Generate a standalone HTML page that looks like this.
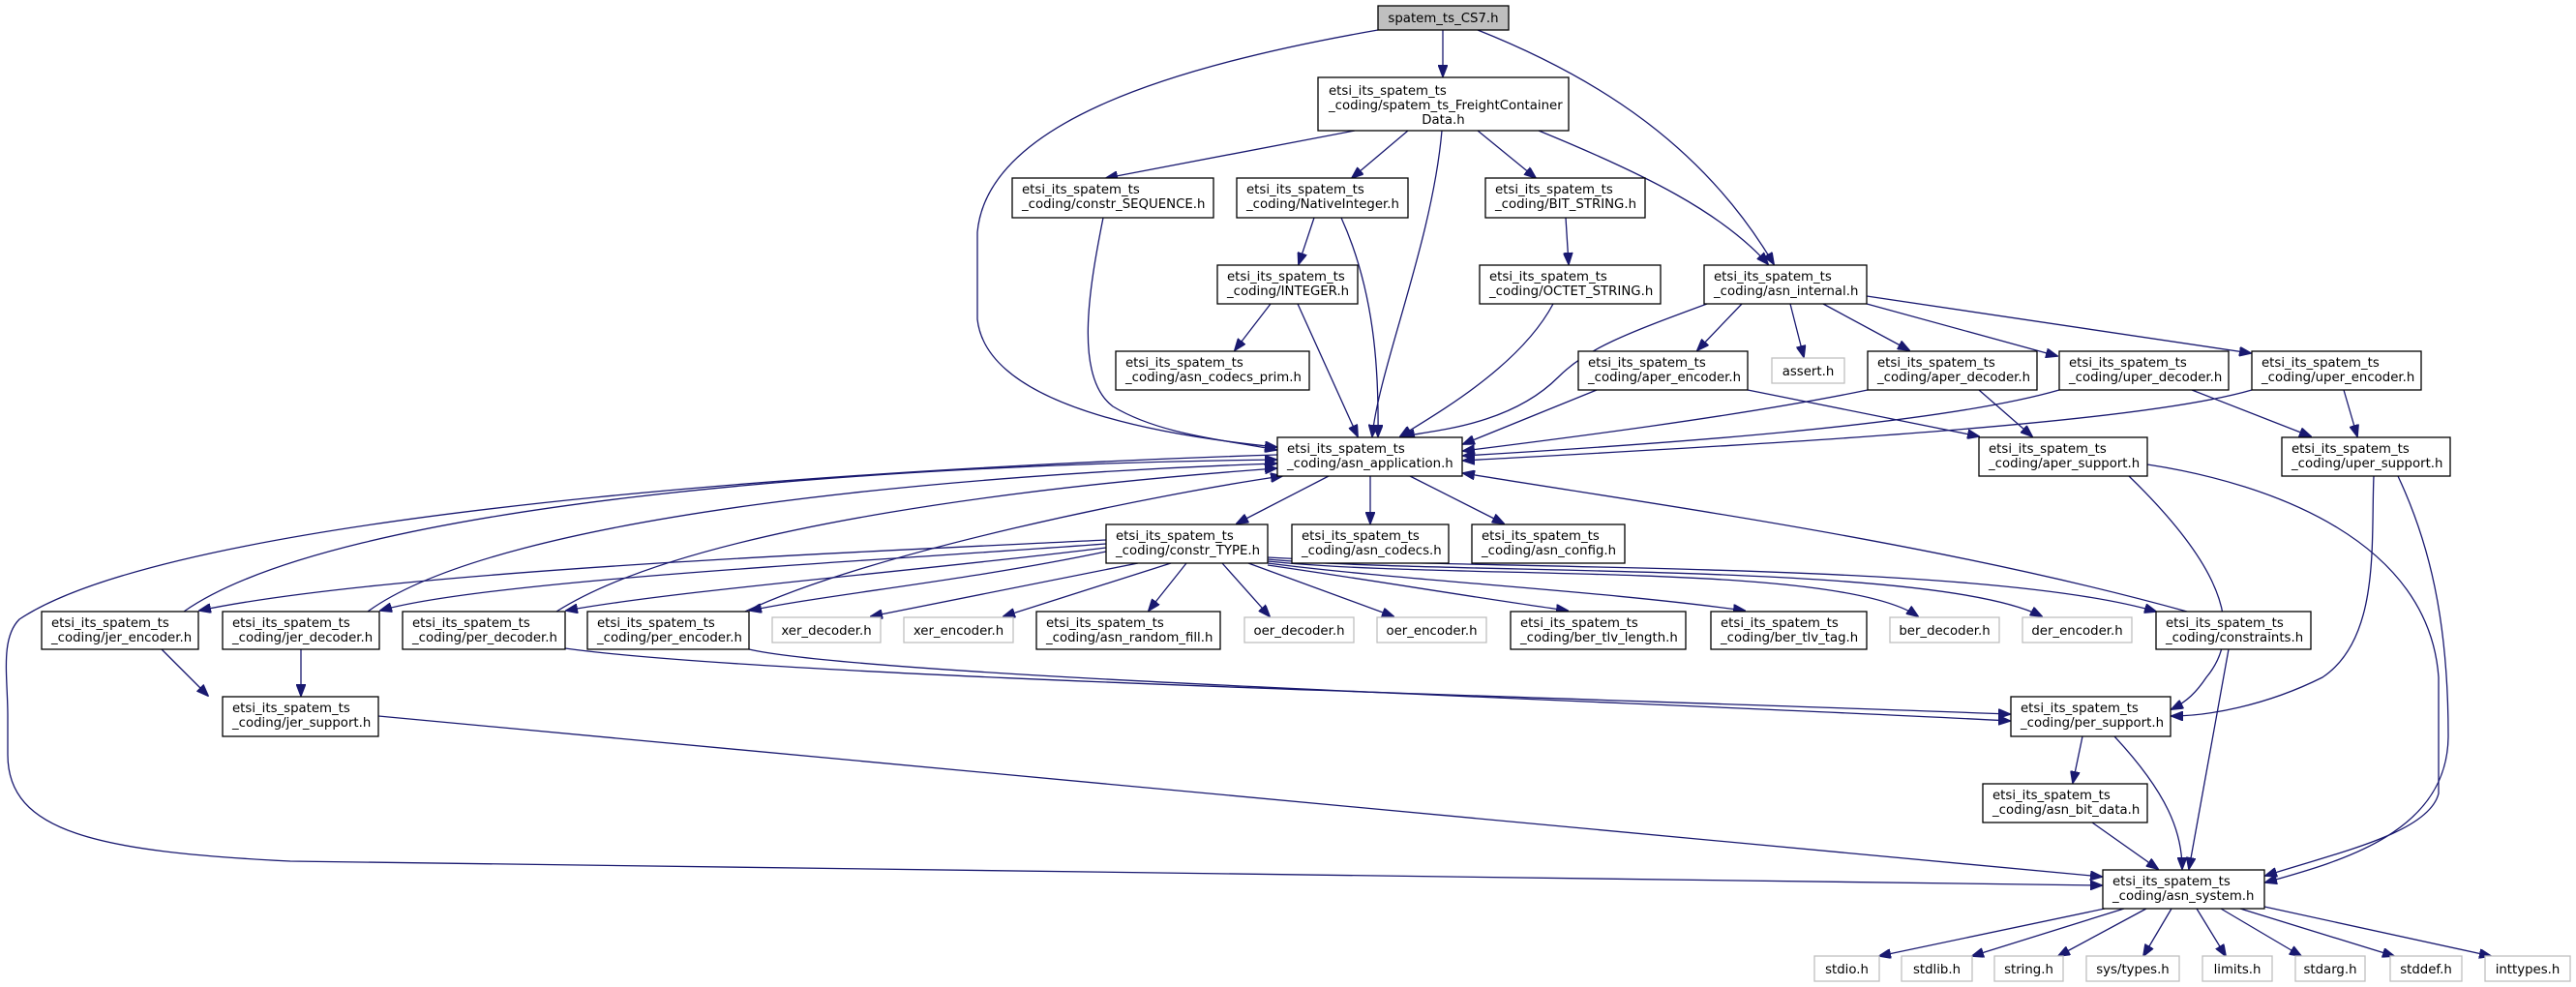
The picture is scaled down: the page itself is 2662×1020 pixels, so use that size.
<!DOCTYPE html>
<html><head><meta charset="utf-8"><style>
html,body{margin:0;padding:0;background:#fff;}
svg{display:block;}
text{font-family:"DejaVu Sans","Liberation Sans",sans-serif;font-size:13.3px;fill:#000;}
.n{fill:#fff;stroke:#000;stroke-width:1.3;}
.g{fill:#fff;stroke:#bfbfbf;stroke-width:1.3;}
.e{fill:none;stroke:#191970;stroke-width:1.3;}
</style></head><body>
<svg width="2662" height="1020" viewBox="0 0 2662 1020" xmlns="http://www.w3.org/2000/svg">
<defs><marker id="a" markerWidth="13" markerHeight="10" refX="12" refY="5" orient="auto" markerUnits="userSpaceOnUse"><path d="M0,0 L13,5 L0,10 Z" fill="#191970" stroke="#191970"/></marker></defs>
<g marker-end="url(#a)">
<!-- CS7 -->
<path class="e" d="M1491,31 L1491,79"/>
<path class="e" d="M1424,31 C1200,70 1020,130 1010,240 L1010,330 C1020,420 1200,450 1319,462"/>
<path class="e" d="M1527,31 C1650,80 1760,150 1833,273"/>
<!-- FC -->
<path class="e" d="M1400,135 L1143,184"/>
<path class="e" d="M1455,135 L1397,184"/>
<path class="e" d="M1490,135 C1480,250 1425,380 1418,451"/>
<path class="e" d="M1527,135 L1587,184"/>
<path class="e" d="M1590,135 C1700,180 1780,220 1827,273"/>
<!-- SEQ, NAT, INT, BIT, OCT -->
<path class="e" d="M1140,225 C1125,300 1110,390 1150,420 C1200,450 1270,455 1319,465"/>
<path class="e" d="M1358,225 L1342,273"/>
<path class="e" d="M1386,225 C1420,300 1425,380 1424,451"/>
<path class="e" d="M1313,314 L1276,362"/>
<path class="e" d="M1341,314 L1403,451"/>
<path class="e" d="M1618,225 L1621,273"/>
<path class="e" d="M1605,314 C1570,380 1480,430 1447,451"/>
<path class="e" d="M1764,314 C1680,345 1640,360 1610,390 C1560,440 1480,445 1450,451"/>
<!-- INTERNAL -->
<path class="e" d="M1800,314 L1754,362"/>
<path class="e" d="M1850,314 L1864,369"/>
<path class="e" d="M1884,314 L1973,362"/>
<path class="e" d="M1929,314 L2126,368"/>
<path class="e" d="M1929,306 L2326,365"/>
<!-- row4 to APP & supports -->
<path class="e" d="M1650,403 L1512,459"/>
<path class="e" d="M1806,403 L2045,451"/>
<path class="e" d="M1930,403 C1800,430 1600,455 1512,466"/>
<path class="e" d="M2045,403 L2100,451"/>
<path class="e" d="M2128,403 C2000,440 1700,460 1512,471"/>
<path class="e" d="M2265,403 L2388,451"/>
<path class="e" d="M2327,403 C2200,440 1800,460 1512,476"/>
<path class="e" d="M2422,403 L2436,451"/>
<!-- APP children -->
<path class="e" d="M1373,492 L1278,541"/>
<path class="e" d="M1416,492 L1416,541"/>
<path class="e" d="M1457,492 L1554,541"/>
<path class="e" d="M1320,470 C1000,480 200,520 20,640 C0,660 8,700 8,740 L8,780 C8,860 100,880 300,890 L2172,915"/>
<!-- supports -->
<path class="e" d="M2200,492 C2270,560 2330,640 2280,700 C2270,715 2260,725 2244,733"/>
<path class="e" d="M2219,480 C2350,500 2510,560 2520,700 L2520,820 C2510,860 2420,880 2341,905"/>
<path class="e" d="M2453,492 C2450,560 2460,660 2400,700 C2340,730 2280,740 2244,740"/>
<path class="e" d="M2478,492 C2510,560 2530,640 2530,760 C2530,860 2420,890 2341,912"/>
<path class="e" d="M2152,761 L2142,809"/>
<path class="e" d="M2185,761 C2240,820 2255,860 2255,898"/>
<path class="e" d="M2162,850 L2230,898"/>
<path class="e" d="M2303,671 L2262,898"/>
<path class="e" d="M2260,632 C2000,560 1700,520 1512,489"/>
<!-- TYPE children -->
<path class="e" d="M1143,558 C900,570 400,590 206,631"/>
<path class="e" d="M1143,562 C900,580 500,600 393,631"/>
<path class="e" d="M1143,566 C950,590 700,610 585,631"/>
<path class="e" d="M1143,570 C1000,600 850,615 775,631"/>
<path class="e" d="M1176,582 L900,637"/>
<path class="e" d="M1210,582 L1037,637"/>
<path class="e" d="M1226,582 L1187,631"/>
<path class="e" d="M1263,582 L1312,637"/>
<path class="e" d="M1290,582 L1440,637"/>
<path class="e" d="M1310,584 C1420,600 1540,620 1620,631"/>
<path class="e" d="M1310,582 C1450,600 1650,610 1803,631"/>
<path class="e" d="M1310,580 C1500,600 1900,580 1982,637"/>
<path class="e" d="M1310,578 C1500,595 2000,580 2110,637"/>
<path class="e" d="M1310,576 C1550,590 2050,580 2228,632"/>
<!-- row7 back to APP -->
<path class="e" d="M190,632 C350,520 900,480 1319,475"/>
<path class="e" d="M380,632 C520,530 1000,490 1319,479"/>
<path class="e" d="M575,632 C720,540 1100,500 1319,484"/>
<path class="e" d="M770,632 C900,570 1200,510 1325,492"/>
<!-- row7 lower -->
<path class="e" d="M167,671 L215,719"/>
<path class="e" d="M311,671 L311,719"/>
<path class="e" d="M584,670 C800,700 1600,720 2077,738"/>
<path class="e" d="M774,671 C900,700 1700,725 2077,745"/>
<path class="e" d="M391,740 L2172,906"/>
<!-- system leaves -->
<path class="e" d="M2175,939 L1942,988"/>
<path class="e" d="M2195,939 L2038,988"/>
<path class="e" d="M2218,939 L2127,988"/>
<path class="e" d="M2244,939 L2215,988"/>
<path class="e" d="M2270,939 L2300,988"/>
<path class="e" d="M2295,939 L2378,988"/>
<path class="e" d="M2315,939 L2474,988"/>
<path class="e" d="M2340,937 L2574,988"/>
</g>
<!-- nodes -->
<rect x="1424" y="6" width="135" height="25" fill="#bfbfbf" stroke="#000" stroke-width="1.3"/>
<text x="1491.5" y="23" text-anchor="middle">spatem_ts_CS7.h</text>
<rect class="n" x="1362" y="80" width="259" height="55"/>
<text x="1373" y="98">etsi_its_spatem_ts</text><text x="1373" y="113">_coding/spatem_ts_FreightContainer</text><text x="1491.5" y="128" text-anchor="middle">Data.h</text>
<g>
<rect class="n" x="1046" y="184" width="208" height="41"/><text x="1056" y="200">etsi_its_spatem_ts</text><text x="1056" y="215">_coding/constr_SEQUENCE.h</text>
<rect class="n" x="1278" y="184" width="177" height="41"/><text x="1288" y="200">etsi_its_spatem_ts</text><text x="1288" y="215">_coding/NativeInteger.h</text>
<rect class="n" x="1535" y="184" width="165" height="41"/><text x="1545" y="200">etsi_its_spatem_ts</text><text x="1545" y="215">_coding/BIT_STRING.h</text>
<rect class="n" x="1258" y="274" width="145" height="40"/><text x="1268" y="290">etsi_its_spatem_ts</text><text x="1268" y="305">_coding/INTEGER.h</text>
<rect class="n" x="1529" y="274" width="187" height="40"/><text x="1539" y="290">etsi_its_spatem_ts</text><text x="1539" y="305">_coding/OCTET_STRING.h</text>
<rect class="n" x="1761" y="274" width="168" height="40"/><text x="1771" y="290">etsi_its_spatem_ts</text><text x="1771" y="305">_coding/asn_internal.h</text>
<rect class="n" x="1153" y="363" width="200" height="40"/><text x="1163" y="379">etsi_its_spatem_ts</text><text x="1163" y="394">_coding/asn_codecs_prim.h</text>
<rect class="n" x="1631" y="363" width="175" height="40"/><text x="1641" y="379">etsi_its_spatem_ts</text><text x="1641" y="394">_coding/aper_encoder.h</text>
<rect class="g" x="1831" y="370" width="75" height="26"/><text x="1868.5" y="388" text-anchor="middle">assert.h</text>
<rect class="n" x="1930" y="363" width="175" height="40"/><text x="1940" y="379">etsi_its_spatem_ts</text><text x="1940" y="394">_coding/aper_decoder.h</text>
<rect class="n" x="2128" y="363" width="175" height="40"/><text x="2138" y="379">etsi_its_spatem_ts</text><text x="2138" y="394">_coding/uper_decoder.h</text>
<rect class="n" x="2327" y="363" width="175" height="40"/><text x="2337" y="379">etsi_its_spatem_ts</text><text x="2337" y="394">_coding/uper_encoder.h</text>
<rect class="n" x="1320" y="452" width="191" height="40"/><text x="1330" y="468">etsi_its_spatem_ts</text><text x="1330" y="483">_coding/asn_application.h</text>
<rect class="n" x="2045" y="452" width="174" height="40"/><text x="2055" y="468">etsi_its_spatem_ts</text><text x="2055" y="483">_coding/aper_support.h</text>
<rect class="n" x="2358" y="452" width="174" height="40"/><text x="2368" y="468">etsi_its_spatem_ts</text><text x="2368" y="483">_coding/uper_support.h</text>
<rect class="n" x="1143" y="542" width="167" height="40"/><text x="1153" y="558">etsi_its_spatem_ts</text><text x="1153" y="573">_coding/constr_TYPE.h</text>
<rect class="n" x="1335" y="542" width="162" height="40"/><text x="1345" y="558">etsi_its_spatem_ts</text><text x="1345" y="573">_coding/asn_codecs.h</text>
<rect class="n" x="1521" y="542" width="158" height="40"/><text x="1531" y="558">etsi_its_spatem_ts</text><text x="1531" y="573">_coding/asn_config.h</text>
<rect class="n" x="43" y="632" width="162" height="39"/><text x="53" y="648">etsi_its_spatem_ts</text><text x="53" y="663">_coding/jer_encoder.h</text>
<rect class="n" x="230" y="632" width="162" height="39"/><text x="240" y="648">etsi_its_spatem_ts</text><text x="240" y="663">_coding/jer_decoder.h</text>
<rect class="n" x="416" y="632" width="168" height="39"/><text x="426" y="648">etsi_its_spatem_ts</text><text x="426" y="663">_coding/per_decoder.h</text>
<rect class="n" x="607" y="632" width="167" height="39"/><text x="617" y="648">etsi_its_spatem_ts</text><text x="617" y="663">_coding/per_encoder.h</text>
<rect class="g" x="798" y="638" width="112" height="26"/><text x="854" y="656" text-anchor="middle">xer_decoder.h</text>
<rect class="g" x="934" y="638" width="113" height="26"/><text x="990.5" y="656" text-anchor="middle">xer_encoder.h</text>
<rect class="n" x="1071" y="632" width="190" height="39"/><text x="1081" y="648">etsi_its_spatem_ts</text><text x="1081" y="663">_coding/asn_random_fill.h</text>
<rect class="g" x="1286" y="638" width="113" height="26"/><text x="1342.5" y="656" text-anchor="middle">oer_decoder.h</text>
<rect class="g" x="1423" y="638" width="113" height="26"/><text x="1479.5" y="656" text-anchor="middle">oer_encoder.h</text>
<rect class="n" x="1561" y="632" width="181" height="39"/><text x="1571" y="648">etsi_its_spatem_ts</text><text x="1571" y="663">_coding/ber_tlv_length.h</text>
<rect class="n" x="1768" y="632" width="161" height="39"/><text x="1778" y="648">etsi_its_spatem_ts</text><text x="1778" y="663">_coding/ber_tlv_tag.h</text>
<rect class="g" x="1953" y="638" width="113" height="26"/><text x="2009.5" y="656" text-anchor="middle">ber_decoder.h</text>
<rect class="g" x="2090" y="638" width="113" height="26"/><text x="2146.5" y="656" text-anchor="middle">der_encoder.h</text>
<rect class="n" x="2228" y="632" width="160" height="39"/><text x="2238" y="648">etsi_its_spatem_ts</text><text x="2238" y="663">_coding/constraints.h</text>
<rect class="n" x="230" y="720" width="161" height="41"/><text x="240" y="736">etsi_its_spatem_ts</text><text x="240" y="751">_coding/jer_support.h</text>
<rect class="n" x="2078" y="720" width="165" height="41"/><text x="2088" y="736">etsi_its_spatem_ts</text><text x="2088" y="751">_coding/per_support.h</text>
<rect class="n" x="2049" y="810" width="170" height="40"/><text x="2059" y="826">etsi_its_spatem_ts</text><text x="2059" y="841">_coding/asn_bit_data.h</text>
<rect class="n" x="2173" y="899" width="167" height="40"/><text x="2183" y="915">etsi_its_spatem_ts</text><text x="2183" y="930">_coding/asn_system.h</text>
<rect class="g" x="1875" y="988" width="67" height="26"/><text x="1908.5" y="1006" text-anchor="middle">stdio.h</text>
<rect class="g" x="1965" y="988" width="73" height="26"/><text x="2001.5" y="1006" text-anchor="middle">stdlib.h</text>
<rect class="g" x="2061" y="988" width="71" height="26"/><text x="2096.5" y="1006" text-anchor="middle">string.h</text>
<rect class="g" x="2156" y="988" width="96" height="26"/><text x="2204" y="1006" text-anchor="middle">sys/types.h</text>
<rect class="g" x="2276" y="988" width="72" height="26"/><text x="2312" y="1006" text-anchor="middle">limits.h</text>
<rect class="g" x="2372" y="988" width="72" height="26"/><text x="2408" y="1006" text-anchor="middle">stdarg.h</text>
<rect class="g" x="2470" y="988" width="74" height="26"/><text x="2507" y="1006" text-anchor="middle">stddef.h</text>
<rect class="g" x="2568" y="988" width="88" height="26"/><text x="2612" y="1006" text-anchor="middle">inttypes.h</text>
</g>
</svg>
</body></html>
